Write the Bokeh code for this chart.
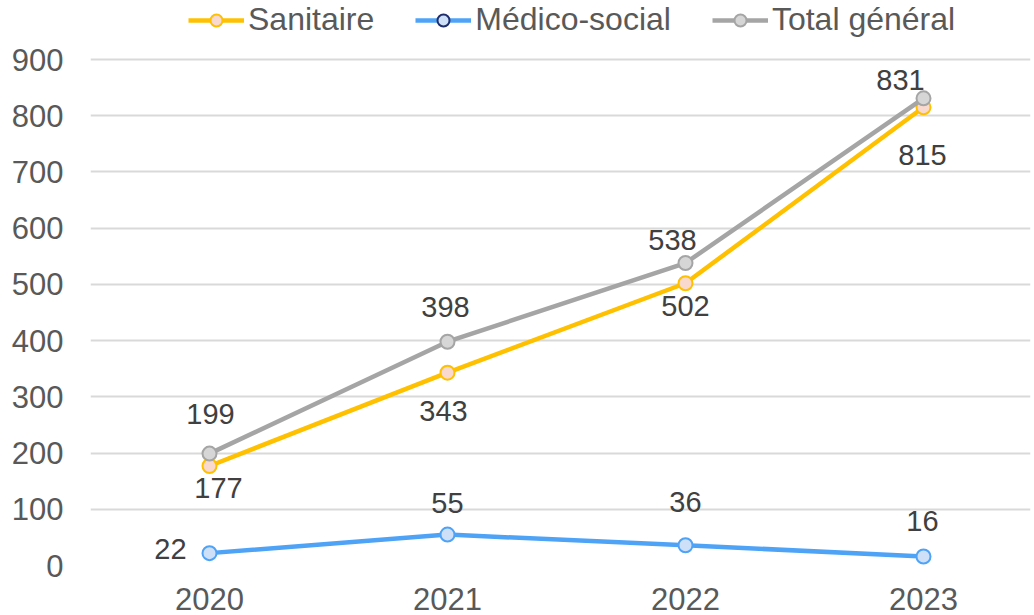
from bokeh.plotting import figure
from bokeh.models import Range1d, FixedTicker, Legend, LegendItem, ColumnDataSource
from bokeh.core.properties import value
from bokeh.embed import file_html
from bokeh.resources import INLINE

years = ["2020", "2021", "2022", "2023"]
sanitaire = [177, 343, 502, 815]
medico = [22, 55, 36, 16]
total = [199, 398, 538, 831]
y_ticks = [0, 100, 200, 300, 400, 500, 600, 700, 800, 900]

# label offsets (style: screen pixels)
tot_dx = [1, -2, -13, -23]
tot_dy = [-40, -35, -23, -18]
san_dx = [9, -4, 0, -1]
san_dy = [22, 38, 23, 48]
med_dx = [-39, 0, 0, -1]
med_dy = [-4, -32, -43, -36]

FONT = "Liberation Sans"
xs = list(range(len(years)))

# frame: left 90, right 1030, top 0, bottom 565 ; 900 at y=59
Y_TOP = 900 + 59 * 900 / 506
X_RIGHT = -0.5 + (1030 - 90) / 238

p = figure(width=1034, height=615, output_backend="svg", toolbar_location=None,
           x_range=Range1d(-0.5, X_RIGHT), y_range=Range1d(0, Y_TOP),
           min_border_left=90, min_border_right=4, min_border_bottom=50, min_border_top=0)
p.outline_line_color = None
p.background_fill_color = "white"
p.border_fill_color = "white"

p.xgrid.visible = False
p.ygrid.grid_line_color = "#D9D9D9"
p.ygrid.grid_line_width = 2

p.yaxis.ticker = FixedTicker(ticks=y_ticks)
p.xaxis.ticker = FixedTicker(ticks=xs)
p.xaxis.major_label_overrides = {i: y for i, y in enumerate(years)}
for ax in (p.xaxis[0], p.yaxis[0]):
    ax.axis_line_color = None
    ax.major_tick_line_color = None
    ax.minor_tick_line_color = None
    ax.major_tick_out = 0
    ax.major_tick_in = 0
    ax.major_label_text_font = FONT
    ax.major_label_text_font_size = "31px"
    ax.major_label_text_color = "#595959"
p.yaxis.major_label_standoff = 27
p.xaxis.major_label_standoff = 22

series = [
    ("Sanitaire", sanitaire, "#FFC000", "#F9D8CE", "#FFC000", "#FFC000", san_dx, san_dy),
    ("Médico-social", medico, "#4FA3F7", "#CDE0F8", "#4FA3F7", "#1F2D6B", med_dx, med_dy),
    ("Total général", total, "#A5A5A5", "#D6D6D6", "#A5A5A5", "#A5A5A5", tot_dx, tot_dy),
]

items = []
for name, vals, lc, fc, ec, legend_ec, dx, dy in series:
    src = ColumnDataSource(dict(x=xs, y=vals, t=[str(v) for v in vals], dx=dx, dy=dy))
    r_line = p.line("x", "y", source=src, line_color=lc, line_width=4.5)
    p.scatter("x", "y", source=src, size=14, fill_color=fc, line_color=ec, line_width=2)
    p.text("x", "y", text="t", source=src, x_offset="dx", y_offset="dy",
           text_font=value(FONT), text_font_size="29px", text_color="#404040",
           text_align="center", text_baseline="middle")
    leg_src = ColumnDataSource(dict(x=[float("nan")], y=[float("nan")]))
    r_leg = p.scatter("x", "y", source=leg_src, size=14, fill_color=fc, line_color=legend_ec, line_width=2)
    items.append(LegendItem(label=name, renderers=[r_line, r_leg]))

legend = Legend(items=items, orientation="horizontal", location=(98, 527),
                glyph_width=56, glyph_height=30, label_standoff=4, spacing=41,
                padding=0, margin=0, border_line_color=None, background_fill_alpha=0,
                label_text_font=FONT, label_text_font_size="32px", label_text_color="#595959",
                label_height=30)
p.add_layout(legend, "center")

open("out.html", "w").write(file_html(p, INLINE))
